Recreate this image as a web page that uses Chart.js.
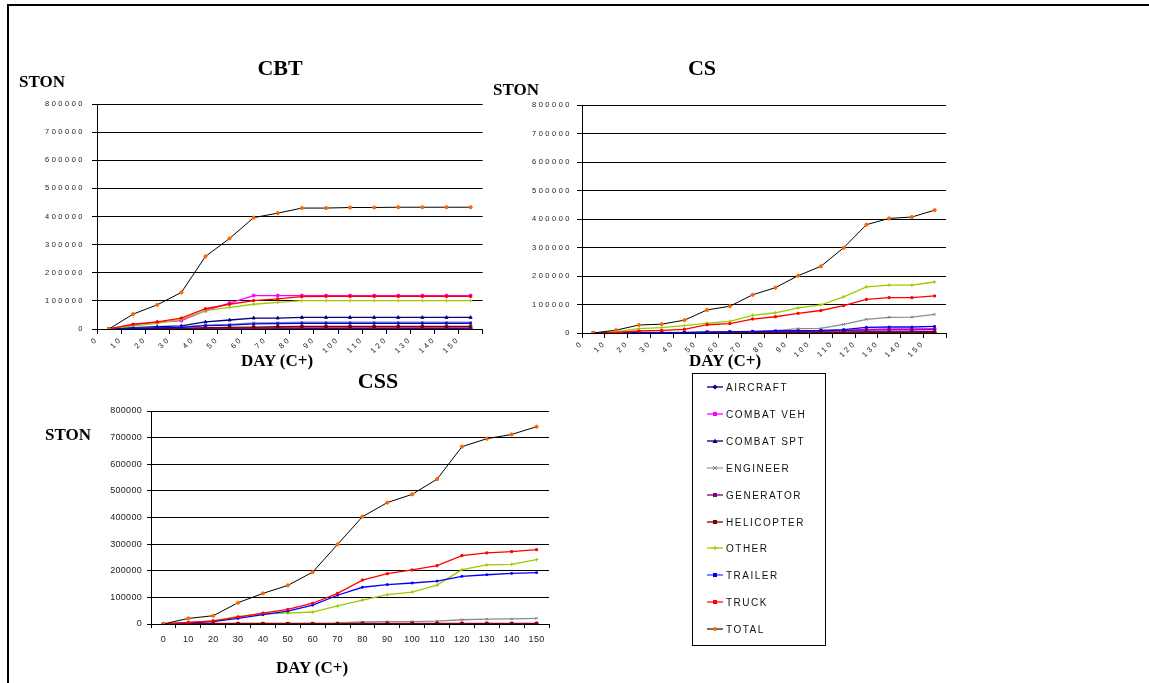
<!DOCTYPE html>
<html>
<head>
<meta charset="utf-8">
<script src="https://cdn.jsdelivr.net/npm/chart.js@4.4.1/dist/chart.umd.min.js"></script>
<style>
  html, body { margin: 0; padding: 0; background: #fff; }
  body { width: 1149px; height: 683px; position: relative; overflow: hidden; }
  canvas { position: absolute; }
  #overlay { position: absolute; left: 0; top: 0; }
</style>
</head>
<body>
<canvas id="cbt" width="480" height="280" style="left:10px;top:90px"></canvas>
<canvas id="cs" width="470" height="280" style="left:490px;top:90px"></canvas>
<canvas id="css" width="500" height="260" style="left:60px;top:395px"></canvas>

<svg id="overlay" width="1149" height="683" xmlns="http://www.w3.org/2000/svg">
  <!-- page frame -->
  <path d="M8 683 V5 H1149" fill="none" stroke="#000" stroke-width="2"/>
  <g font-family="'Liberation Serif','Times New Roman',serif" font-weight="bold" fill="#000">
    <text x="280" y="75" font-size="22" text-anchor="middle">CBT</text>
    <text x="702" y="75" font-size="22" text-anchor="middle">CS</text>
    <text x="378" y="388" font-size="22" text-anchor="middle">CSS</text>
    <text x="19" y="87" font-size="17">STON</text>
    <text x="493" y="95" font-size="17">STON</text>
    <text x="45" y="440" font-size="17">STON</text>
    <text x="277" y="366" font-size="17" text-anchor="middle">DAY (C+)</text>
    <text x="725" y="366" font-size="17" text-anchor="middle">DAY (C+)</text>
    <text x="312" y="673" font-size="17" text-anchor="middle">DAY (C+)</text>
  </g>
  <g id="legend"></g>
</svg>

<script>
// Day labels along the horizontal axes
const dayLabels = ['0','10','20','30','40','50','60','70','80','90','100','110','120','130','140','150'];

// Series names (shared by all three panels and the legend)
const seriesNames = ['AIRCRAFT','COMBAT VEH','COMBAT SPT','ENGINEER','GENERATOR','HELICOPTER','OTHER','TRAILER','TRUCK','TOTAL'];

// ---- CBT (short tons) ----
const cbtAircraft  = [0, 200, 300, 400, 500, 500, 600, 800, 1000, 1000, 1000, 1000, 1000, 1000, 1000, 1000];
const cbtCombatVeh = [0, 15000, 24000, 30000, 65000, 92000, 119000, 119000, 119000, 119000, 119000, 119000, 119000, 119000, 119000, 119000];
const cbtCombatSpt = [0, 5000, 8000, 11000, 25000, 32000, 39000, 39000, 41000, 41000, 41000, 41000, 41000, 41000, 41000, 41000];
const cbtEngineer  = [0, 2000, 4000, 7000, 14000, 16000, 22000, 23000, 24000, 24000, 24000, 24000, 24000, 24000, 24000, 24000];
const cbtGenerator = [0, 300, 500, 1000, 2500, 3000, 3500, 3500, 3500, 3500, 3500, 3500, 3500, 3500, 3500, 3500];
const cbtHeli      = [0, 1000, 1500, 2000, 5000, 6000, 7000, 8000, 9000, 9000, 9000, 9000, 9000, 9000, 9000, 9000];
const cbtOther     = [0, 11000, 20000, 34000, 65000, 77000, 88000, 95000, 101000, 101000, 101000, 101000, 101000, 101000, 101000, 101000];
const cbtTrailer   = [0, 2000, 4000, 6000, 12000, 14000, 18000, 19000, 20000, 20000, 20000, 20000, 20000, 20000, 20000, 20000];
const cbtTruck     = [0, 17000, 25000, 39000, 72000, 88000, 101000, 107000, 115000, 116000, 116000, 116000, 116000, 116000, 116000, 116000];
const cbtTotal     = [0, 53000, 86000, 130000, 258000, 322000, 396000, 412000, 430000, 430000, 432000, 432000, 433000, 433000, 433000, 433000];

// ---- CS (short tons) ----
const csAircraft  = [0, 0, 0, 0, 0, 500, 500, 1000, 1000, 1000, 1500, 1500, 2000, 2000, 2000, 2000];
const csCombatVeh = [0, 500, 1000, 1000, 1000, 3000, 4000, 5000, 6000, 7000, 8000, 9000, 13000, 14000, 14000, 15000];
const csCombatSpt = [0, 0, 500, 500, 500, 1000, 1000, 1500, 2000, 2000, 3000, 3000, 4000, 4000, 4000, 5000];
const csEngineer  = [0, 1000, 2000, 2000, 2000, 4000, 5000, 6000, 8000, 15000, 16000, 30000, 48000, 55000, 56000, 65000];
const csGenerator = [0, 500, 1000, 1000, 1000, 2000, 3000, 4000, 5000, 6000, 7000, 8000, 10000, 11000, 11000, 12000];
const csHeli      = [0, 1000, 1500, 1500, 1500, 1500, 1500, 1500, 1500, 2000, 2000, 2000, 2000, 2000, 2000, 2000];
const csOther     = [0, 5000, 15000, 19000, 26000, 35000, 41000, 62000, 71000, 88000, 99000, 127000, 162000, 168000, 168000, 179000];
const csTrailer   = [0, 500, 1000, 1000, 1000, 3000, 4000, 5000, 7000, 8000, 9000, 12000, 20000, 21000, 21000, 23000];
const csTruck     = [0, 2000, 7000, 9000, 13000, 29000, 33000, 49000, 57000, 69000, 79000, 96000, 118000, 124000, 124000, 130000];
const csTotal     = [0, 10000, 28000, 31000, 45000, 81000, 94000, 134000, 159000, 201000, 234000, 299000, 380000, 402000, 407000, 431000];

// ---- CSS (short tons) ----
const cssAircraft  = [0, 0, 0, 0, 0, 0, 0, 500, 500, 500, 500, 500, 500, 500, 500, 500];
const cssCombatVeh = [0, 500, 500, 500, 500, 500, 500, 1000, 1000, 1000, 1000, 1000, 1000, 1000, 1000, 1000];
const cssCombatSpt = [0, 500, 500, 500, 500, 500, 500, 500, 1000, 1000, 1000, 1000, 1000, 1000, 1000, 1000];
const cssEngineer  = [0, 1000, 2000, 3000, 3000, 3000, 3000, 4000, 7500, 9000, 9000, 11000, 16000, 18000, 19000, 21500];
const cssGenerator = [0, 1000, 1500, 1500, 1500, 1500, 1500, 1500, 2000, 2000, 2000, 2000, 2000, 2000, 2000, 2000];
const cssHeli      = [0, 500, 1000, 1000, 1000, 1000, 1000, 1000, 1500, 1500, 1500, 1500, 1500, 1500, 1500, 1500];
const cssOther     = [0, 5000, 11000, 29000, 38000, 41000, 45000, 68000, 90000, 110000, 120000, 146000, 204000, 222000, 224000, 242000];
const cssTrailer   = [0, 4000, 9000, 21000, 35000, 48000, 71000, 108000, 138000, 148000, 154000, 161000, 179000, 185000, 190000, 193000];
const cssTruck     = [0, 6000, 12000, 26000, 41000, 55000, 78000, 115000, 165000, 189000, 203000, 219000, 257000, 267000, 272000, 279000];
const cssTotal     = [0, 21000, 31000, 80000, 115000, 145000, 195000, 299000, 403000, 456000, 487000, 544000, 666000, 696000, 712000, 741000];

// Series styling: line colour, marker colour, marker shape, marker size
const lineColors   = ['#000080','#ff00ff','#000080','#8c8c8c','#800080','#800000','#99cc00','#0000ff','#ff0000','#000000'];
const markerColors = ['#000080','#ff00ff','#000080','#808080','#800080','#800000','#99cc00','#0000ff','#ff0000','#ff6600'];
const markerShapes = ['rectRot','rect','triangle','crossRot','rect','rect','cross','rect','rect','circle'];
const markerSizes  = [1.6, 1.8, 1.8, 1.8, 1.6, 1.8, 1.8, 1.2, 1.4, 1.6];
const legendLineColors = ['#000080','#ff00ff','#000080','#a0a0a0','#800080','#800000','#99cc00','#4040ff','#ff6060','#707070'];

const FONT_SANS = "'Liberation Sans', Arial, sans-serif";

function buildDatasets(seriesValues, asPoints) {
  const n = seriesValues.length;
  return seriesValues.map((vals, s) => ({
    label: seriesNames[s],
    data: asPoints ? vals.map((v, i) => ({ x: i + 0.5, y: v })) : vals,
    borderColor: lineColors[s],
    backgroundColor: markerColors[s],
    pointBackgroundColor: markerColors[s],
    pointBorderColor: markerColors[s],
    pointStyle: markerShapes[s],
    pointRadius: markerSizes[s],
    pointBorderWidth: 1,
    borderWidth: s === 9 ? 1 : 1.3,
    tension: 0,
    fill: false,
    order: n - s
  }));
}

// Canvas letter spacing for the spaced-out axis lettering
function spacingPlugin(px) {
  return {
    id: 'tickSpacing',
    beforeLayout(chart) { chart.ctx.letterSpacing = px; },
    beforeDraw(chart) { chart.ctx.letterSpacing = px; }
  };
}

const plainNumber = v => String(v);

function spacedPanel(canvasId, seriesValues, box) {
  return new Chart(document.getElementById(canvasId), {
    type: 'line',
    data: { datasets: buildDatasets(seriesValues, true) },
    options: {
      responsive: false,
      animation: false,
      layout: { padding: { left: 0, right: box.padRight, top: box.padTop, bottom: box.padBottom } },
      plugins: { legend: { display: false }, tooltip: { enabled: false }, title: { display: false } },
      scales: {
        x: {
          type: 'linear',
          min: 0, max: 16,
          afterFit: s => { s.height = box.xHeight; },
          afterBuildTicks: s => { s.ticks = dayLabels.map((_, i) => ({ value: i })).concat([{ value: 16 }]); },
          ticks: {
            autoSkip: false, maxRotation: 45, minRotation: 45,
            padding: 1,
            color: '#222',
            font: { family: FONT_SANS, size: 7.5 },
            callback: v => (dayLabels[v] !== undefined ? dayLabels[v] : '')
          },
          grid: { drawOnChartArea: false, drawTicks: true, tickLength: 5, color: '#000', lineWidth: 1 },
          border: { color: '#000', width: 1 }
        },
        y: {
          min: 0, max: 800000,
          afterFit: s => { s.width = box.yWidth; },
          ticks: {
            stepSize: 100000,
            padding: box.yPad,
            color: '#222',
            font: { family: FONT_SANS, size: 7.5 },
            callback: plainNumber
          },
          grid: { color: '#000', lineWidth: 1, tickLength: 5, drawTicks: true },
          border: { color: '#000', width: 1 }
        }
      }
    },
    plugins: [spacingPlugin('2.5px')]
  });
}

spacedPanel('cbt',
  [cbtAircraft, cbtCombatVeh, cbtCombatSpt, cbtEngineer, cbtGenerator, cbtHeli, cbtOther, cbtTrailer, cbtTruck, cbtTotal],
  { padRight: 6, padTop: 14, padBottom: 6, xHeight: 35, yWidth: 87, yPad: 7 });

spacedPanel('cs',
  [csAircraft, csCombatVeh, csCombatSpt, csEngineer, csGenerator, csHeli, csOther, csTrailer, csTruck, csTotal],
  { padRight: 14, padTop: 15, padBottom: 7, xHeight: 30, yWidth: 92, yPad: 5 });

// CSS panel: plain category axis, labels centred under the points
new Chart(document.getElementById('css'), {
  type: 'line',
  data: {
    labels: dayLabels,
    datasets: buildDatasets([cssAircraft, cssCombatVeh, cssCombatSpt, cssEngineer, cssGenerator, cssHeli, cssOther, cssTrailer, cssTruck, cssTotal], false)
  },
  options: {
    responsive: false,
    animation: false,
    layout: { padding: { left: 0, right: 11, top: 16, bottom: 11 } },
    plugins: { legend: { display: false }, tooltip: { enabled: false }, title: { display: false } },
    scales: {
      x: {
        type: 'category',
        offset: true,
        afterFit: s => { s.height = 20; },
        ticks: { autoSkip: false, maxRotation: 0, padding: 6, color: '#222', font: { family: FONT_SANS, size: 9 } },
        grid: { offset: true, drawOnChartArea: false, drawTicks: true, tickLength: 4, color: '#000' },
        border: { color: '#000', width: 1 }
      },
      y: {
        min: 0, max: 800000,
        afterFit: s => { s.width = 91; },
        ticks: { stepSize: 100000, padding: 5, color: '#222', font: { family: FONT_SANS, size: 9 }, callback: plainNumber },
        grid: { color: '#000', lineWidth: 1, tickLength: 4 },
        border: { color: '#000', width: 1 }
      }
    }
  },
  plugins: [spacingPlugin('0.3px')]
});

// Legend box
(function buildLegend() {
  const ns = 'http://www.w3.org/2000/svg';
  const g = document.getElementById('legend');
  const mk = (tag, attrs) => { const el = document.createElementNS(ns, tag); for (const k in attrs) el.setAttribute(k, attrs[k]); g.appendChild(el); return el; };
  mk('rect', { x: 692.5, y: 373.5, width: 133, height: 272, fill: '#fff', stroke: '#000', 'stroke-width': 1 });
  const rows = [387, 414, 441, 468, 495, 522, 548, 575, 602, 629];
  seriesNames.forEach((name, s) => {
    const y = rows[s], cx = 715, c = markerColors[s];
    mk('line', { x1: 707, y1: y, x2: 723, y2: y, stroke: legendLineColors[s], 'stroke-width': (s === 8 || s === 9) ? 2 : 1.3 });
    const shape = markerShapes[s];
    if (shape === 'rectRot') mk('polygon', { points: `${cx},${y-2.5} ${cx+2.5},${y} ${cx},${y+2.5} ${cx-2.5},${y}`, fill: c });
    else if (shape === 'rect') mk('rect', { x: cx - 2, y: y - 2, width: 4, height: 4, fill: c });
    else if (shape === 'triangle') mk('polygon', { points: `${cx},${y-2.5} ${cx+2.5},${y+2} ${cx-2.5},${y+2}`, fill: c });
    else if (shape === 'circle') mk('circle', { cx: cx, cy: y, r: 2, fill: c });
    else if (shape === 'crossRot') mk('path', { d: `M${cx-2} ${y-2} L${cx+2} ${y+2} M${cx-2} ${y+2} L${cx+2} ${y-2}`, stroke: c, 'stroke-width': 1 });
    else if (shape === 'cross') mk('path', { d: `M${cx-2.5} ${y} H${cx+2.5} M${cx} ${y-2.5} V${y+2.5}`, stroke: c, 'stroke-width': 1 });
    const t = mk('text', { x: 726, y: y + 3.6, 'font-family': FONT_SANS, 'font-size': 10, 'letter-spacing': 1.5, fill: '#111' });
    t.textContent = name;
  });
})();
</script>
</body>
</html>
